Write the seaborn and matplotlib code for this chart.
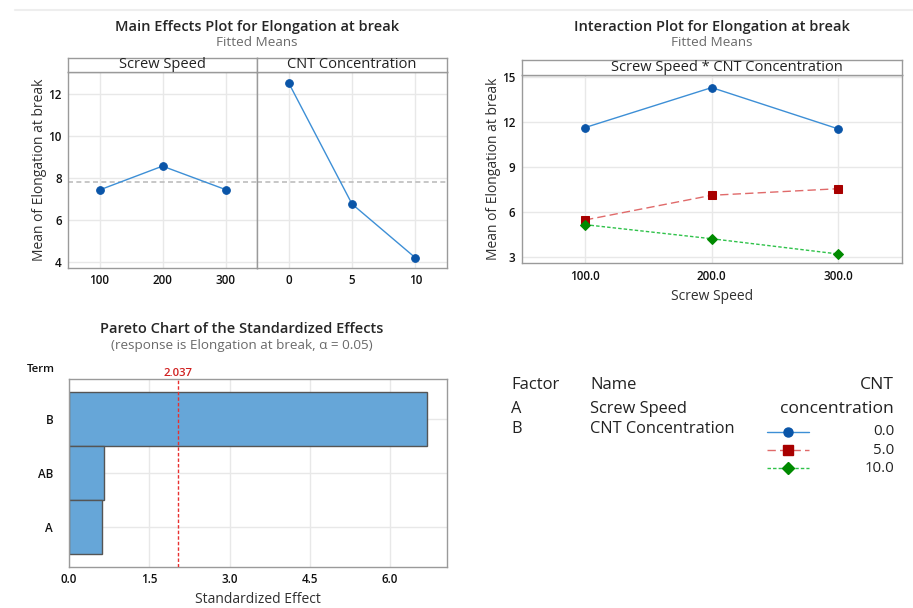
import numpy as np
import pandas as pd
import matplotlib
matplotlib.use("Agg")
import matplotlib.pyplot as plt
import seaborn as sns
from matplotlib.lines import Line2D

# ---------------- data ----------------
screw_levels = ["100", "200", "300"]
screw_means = [7.43, 8.57, 7.45]
cnt_levels = ["0", "5", "10"]
cnt_means = [12.55, 6.76, 4.19]
overall_mean = 7.82

inter_x = ["100.0", "200.0", "300.0"]
cnt_labels = ["0.0", "5.0", "10.0"]
inter_cnt0 = [11.62, 14.29, 11.53]
inter_cnt5 = [5.45, 7.10, 7.54]
inter_cnt10 = [5.14, 4.20, 3.18]

terms = ["B", "AB", "A"]
std_effects = [6.69, 0.66, 0.61]
t_crit = 2.037

me_yticks = [4, 6, 8, 10, 12]
int_yticks = [3, 6, 9, 12, 15]
pareto_xticks = [0.0, 1.5, 3.0, 4.5, 6.0]

factor_codes = ["A", "B"]
factor_names = ["Screw Speed", "CNT Concentration"]

# ---------------- style ----------------
sns.set_theme(style="white")
FONT = ["Open Sans", "DejaVu Sans"]
plt.rcParams["font.family"] = FONT

W, H = 913, 608
fig = plt.figure(figsize=(W / 100, H / 100), dpi=100)
fig.patch.set_facecolor("white")


def rect(l, t, r, b):
    return [l / W, 1 - b / H, (r - l) / W, (b - t) / H]


def fx(x):
    return x / W


def fy(y):
    return 1 - y / H


FRAME = "#9a9a9a"
GRID = "#e8e8e8"
LB = "#3d8fd6"
DB = "#0a55a8"
RED_L = "#e06a6a"
RED_D = "#a80000"
GRN_L = "#2fc24a"
GRN_D = "#008a00"
BAR = "#66a6d8"
TITLE_C = "#262626"
SUB_C = "#6a6a6a"
LABEL_C = "#303030"
TICK_FS = 8.4
TITLE_FS = 10.5
SUB_FS = 9.7
AXLAB_FS = 10.0


def style_axes(ax):
    for s in ax.spines.values():
        s.set_color(FRAME)
        s.set_linewidth(1.0)
    ax.tick_params(axis="both", length=2.5, width=0.8, color=FRAME,
                   labelsize=TICK_FS, labelcolor="#111111", pad=2)
    ax.set_axisbelow(True)
    ax.grid(True, color=GRID, linewidth=1.0)


def bold_ticks(ax):
    for lab in ax.get_xticklabels() + ax.get_yticklabels():
        lab.set_fontweight("semibold")


def strip(l, t, r, b, text, cx=None):
    sa = fig.add_axes(rect(l, t, r, b))
    sa.set_xticks([])
    sa.set_yticks([])
    for s in sa.spines.values():
        s.set_color(FRAME)
        s.set_linewidth(1.0)
    xx = 0.5 if cx is None else (cx - l) / (r - l)
    sa.text(xx, 0.02, text, ha="center", va="bottom", fontsize=10.5,
            color="#222222", transform=sa.transAxes)
    return sa


# top separator
fig.add_artist(Line2D([15 / W, 1], [fy(10), fy(10)], color="#eeeeee", lw=1.5))

# ---------------- main effects ----------------
ax1 = fig.add_axes(rect(68, 72, 257, 268))
ax2 = fig.add_axes(rect(257, 72, 447, 268), sharey=ax1)

me_kws = dict(errorbar=None, markers="o", linestyles="-",
              markerfacecolor=DB, markeredgecolor=DB, markersize=5.5,
              linewidth=1.0)
sns.pointplot(x=screw_levels, y=screw_means, color=LB, ax=ax1, **me_kws)
sns.pointplot(x=cnt_levels, y=cnt_means, color=LB, ax=ax2, **me_kws)

for ax in (ax1, ax2):
    ax.axhline(overall_mean, color="#bdbdbd", lw=1.2, ls=(0, (3, 2)), zorder=1)
    ax.set_xlim(-0.5, 2.5)
    style_axes(ax)
    ax.set_xlabel("")
ax1.set_ylim(3.7, 13.07)
ax1.set_yticks(me_yticks)
ax1.set_ylabel("Mean of Elongation at break", fontsize=AXLAB_FS, color=LABEL_C, labelpad=1)
ax2.set_ylabel("")
ax2.tick_params(axis="y", left=False, labelleft=False)
bold_ticks(ax1)
bold_ticks(ax2)

strip(68, 58, 257, 72, "Screw Speed")
strip(257, 58, 447, 72, "CNT Concentration")

fig.text(fx(257), fy(27), "Main Effects Plot for Elongation at break", ha="center",
         va="center", fontsize=TITLE_FS, fontweight="semibold", color=TITLE_C)
fig.text(fx(257), fy(43), "Fitted Means", ha="center", va="center",
         fontsize=SUB_FS, color=SUB_C)

# ---------------- interaction ----------------
ax3 = fig.add_axes(rect(521.7, 75, 901.7, 263.3))
series = [
    (inter_cnt0, LB, DB, "o", "-", 5.5),
    (inter_cnt5, RED_L, RED_D, "s", (0, (6, 3)), 6.0),
    (inter_cnt10, GRN_L, GRN_D, "D", (0, (2.5, 1.5)), 5.0),
]
handles = []
for vals, lc, mc, mk, ls, ms in series:
    sns.pointplot(x=inter_x, y=vals, color=lc, ax=ax3, errorbar=None,
                  markers=mk, linestyles=ls, markerfacecolor=mc,
                  markeredgecolor=mc, markersize=ms, linewidth=1.0)
    handles.append(Line2D([], [], color=lc, ls=ls, lw=1.0, marker=mk,
                          markerfacecolor=mc, markeredgecolor=mc, markersize=ms + 1))
ax3.set_xlim(-0.5, 2.5)
ax3.set_ylim(2.56, 15.13)
ax3.set_yticks(int_yticks)
style_axes(ax3)
ax3.set_xlabel("Screw Speed", fontsize=AXLAB_FS, color=LABEL_C, labelpad=5)
ax3.set_ylabel("Mean of Elongation at break", fontsize=AXLAB_FS, color=LABEL_C, labelpad=1)
bold_ticks(ax3)
strip(521.7, 60, 901.7, 75, "Screw Speed * CNT Concentration", cx=727)

fig.text(fx(712), fy(27), "Interaction Plot for Elongation at break", ha="center",
         va="center", fontsize=TITLE_FS, fontweight="semibold", color=TITLE_C)
fig.text(fx(712), fy(43), "Fitted Means", ha="center", va="center",
         fontsize=SUB_FS, color=SUB_C)

# ---------------- pareto ----------------
ax4 = fig.add_axes(rect(69, 379.3, 447.3, 566.7))
sns.barplot(x=std_effects, y=terms, orient="h", color=BAR, width=1.0,
            edgecolor="#555555", linewidth=1.0, saturation=1, ax=ax4)
ax4.axvline(t_crit, color="#e83030", lw=1.0, ls=(0, (2.5, 1.5)), zorder=3)
ax4.set_xlim(0, 7.07)
ax4.set_ylim(2.745, -0.745)
ax4.set_xticks(pareto_xticks)
ax4.set_xticklabels([f"{v:.1f}" for v in pareto_xticks])
style_axes(ax4)
ax4.tick_params(axis="y", pad=9)
bold_ticks(ax4)
ax4.set_xlabel("Standardized Effect", fontsize=AXLAB_FS, color=LABEL_C, labelpad=4)
ax4.set_ylabel("")
ax4.text(t_crit, 1.0, f"{t_crit:.3f}", transform=ax4.get_xaxis_transform(),
         ha="center", va="bottom", fontsize=8.2, color="#d02020",
         fontweight="semibold")
fig.text(fx(41), fy(369), "Term", ha="center", va="center", fontsize=8.2,
         fontweight="semibold", color="#111111")

fig.text(fx(242), fy(329), "Pareto Chart of the Standardized Effects", ha="center",
         va="center", fontsize=TITLE_FS, fontweight="semibold", color=TITLE_C)
fig.text(fx(242), fy(346), "(response is Elongation at break, \u03b1 = 0.05)",
         ha="center", va="center", fontsize=SUB_FS, color=SUB_C)

# ---------------- factor table / legend ----------------
fig.text(fx(511), fy(385), "Factor", ha="left", va="center", fontsize=12, color="#222222")
fig.text(fx(590), fy(385), "Name", ha="left", va="center", fontsize=12, color="#222222")
for i, (c, n) in enumerate(zip(factor_codes, factor_names)):
    yy = 409 + 20 * i
    fig.text(fx(511), fy(yy), c, ha="left", va="center", fontsize=11.8, color="#222222")
    fig.text(fx(590), fy(yy), n, ha="left", va="center", fontsize=11.8, color="#222222")

fig.text(fx(894), fy(385), "CNT", ha="right", va="center", fontsize=12.6, color="#222222")
fig.text(fx(894), fy(409), "concentration", ha="right", va="center", fontsize=12.6,
         color="#222222")
leg = fig.legend(handles=handles, labels=["", "", ""], loc="upper center",
                 bbox_to_anchor=(fx(788), fy(418)), frameon=False,
                 handlelength=2.6, handletextpad=0, borderpad=0,
                 labelspacing=0.12, fontsize=11.5)
for i, lab in enumerate(cnt_labels):
    yy = 431.7 + 18.3 * i
    fig.text(fx(894), fy(yy), lab, ha="right", va="center", fontsize=10.8, color="#222222")

fig.savefig("out.png", dpi=100, facecolor="white")
